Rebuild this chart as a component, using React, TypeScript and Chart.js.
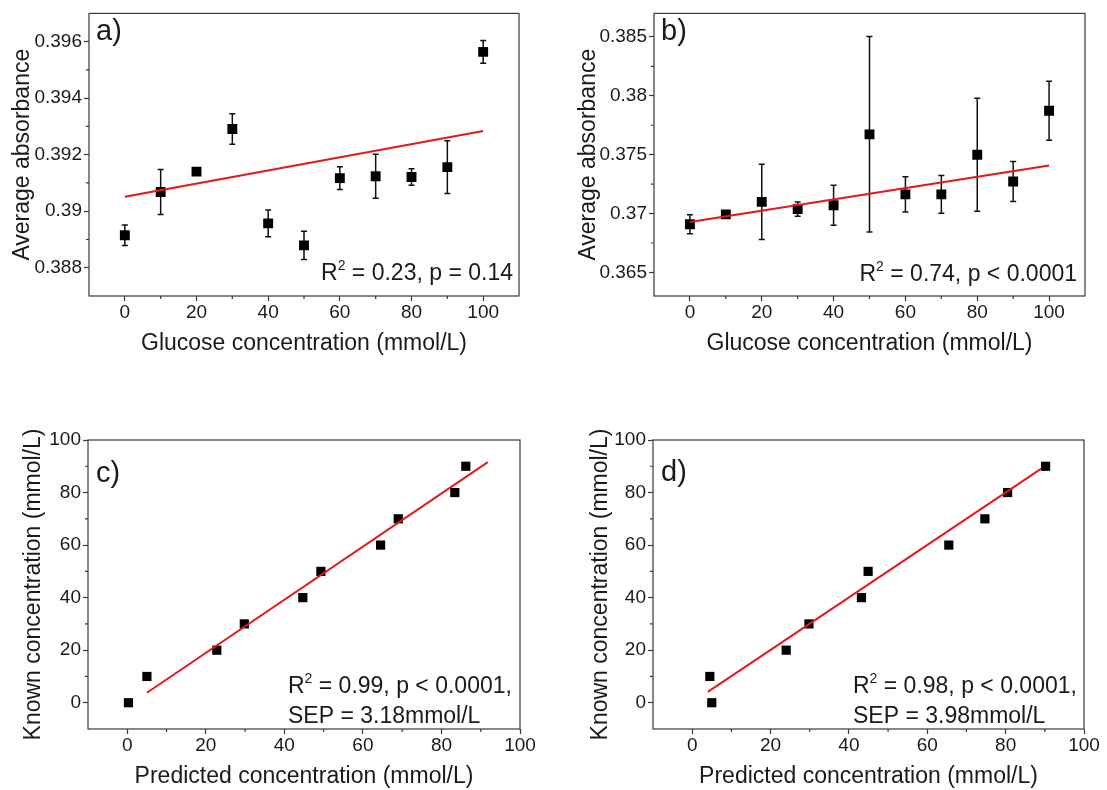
import React, { useEffect, useRef } from 'react';
import { Chart, registerables } from 'chart.js';

Chart.register(...registerables);

const FAMILY = '"Liberation Sans", Arial, Helvetica, sans-serif';

// ---------- Panel a ----------
const glucoseA = [0, 10, 20, 30, 40, 50, 60, 70, 80, 90, 100];
const absorbanceA = [0.38915, 0.39068, 0.3914, 0.39291, 0.38957, 0.38879, 0.39117, 0.39124, 0.39121, 0.39156, 0.39564];
const errorA = [0.00036, 0.0008, 0.00012, 0.00054, 0.00047, 0.0005, 0.0004, 0.00078, 0.00029, 0.00093, 0.0004];
const fitXA = [0, 100];
const fitYA = [0.39051, 0.39284];
const yTicksA = [0.388, 0.39, 0.392, 0.394, 0.396];
const yTickLabelsA = ['0.388', '0.39', '0.392', '0.394', '0.396'];
const yMinorA = [0.389, 0.391, 0.393, 0.395];

// ---------- Panel b ----------
const glucoseB = [0, 10, 20, 30, 40, 50, 60, 70, 80, 90, 100];
const absorbanceB = [0.36909, 0.36993, 0.37099, 0.37038, 0.37071, 0.37673, 0.37163, 0.37163, 0.375, 0.37272, 0.37873];
const errorB = [0.0008, 0.0003, 0.0032, 0.0006, 0.0017, 0.0083, 0.0015, 0.0016, 0.0048, 0.0017, 0.0025];
const fitXB = [0, 100];
const fitYB = [0.36929, 0.37408];
const yTicksB = [0.365, 0.37, 0.375, 0.38, 0.385];
const yTickLabelsB = ['0.365', '0.37', '0.375', '0.38', '0.385'];
const yMinorB = [0.3675, 0.3725, 0.3775, 0.3825];

// shared x ticks for a, b
const xTicksAB = [0, 20, 40, 60, 80, 100];
const xTickLabelsAB = ['0', '20', '40', '60', '80', '100'];
const xMinorAB = [10, 30, 50, 70, 90];

// ---------- Panel c ----------
const predictedC = [0.3, 5, 22.8, 29.8, 44.7, 49.3, 64.5, 69.0, 83.4, 86.2];
const knownC = [0, 10, 20, 30, 40, 50, 60, 70, 80, 90];
const fitXC = [5, 91.8];
const fitYC = [3.8, 91.6];

// ---------- Panel d ----------
const predictedD = [5.0, 4.5, 24.0, 29.8, 43.2, 44.9, 65.5, 74.7, 80.5, 90.2];
const knownD = [0, 10, 20, 30, 40, 50, 60, 70, 80, 90];
const fitXD = [4.0, 89.2];
const fitYD = [4.1, 89.2];

// shared ticks for c, d
const ticksCD = [0, 20, 40, 60, 80, 100];
const tickLabelsCD = ['0', '20', '40', '60', '80', '100'];
const minorCD = [10, 30, 50, 70, 90];

type Seg = { t: string; sup?: boolean };

interface Panel {
  pos: { left: number; top: number; width: number; height: number };
  area: { l: number; r: number; t: number; b: number };
  xRange: [number, number];
  yRange: [number, number];
  xTicks: number[];
  xLabels: string[];
  xMinor: number[];
  yTicks: number[];
  yLabels: string[];
  yMinor: number[];
  xs: number[];
  ys: number[];
  errs?: number[];
  fitX: number[];
  fitY: number[];
  xTitle: string;
  yTitle: string;
  yTitleCenter: number;
  xTitleCenter: number;
  letter: string;
  letterPos: [number, number];
  notes: Seg[][];
  noteAlign: 'left' | 'right';
  noteX: number;
  noteY: number[];
  pointR: number;
}

const panels: Panel[] = [
  {
    pos: { left: 0, top: 0, width: 553, height: 395 },
    area: { l: 89, r: 519, t: 7, b: 296 },
    xRange: [-10, 110],
    yRange: [0.387, 0.397],
    xTicks: xTicksAB, xLabels: xTickLabelsAB, xMinor: xMinorAB,
    yTicks: yTicksA, yLabels: yTickLabelsA, yMinor: yMinorA,
    xs: glucoseA, ys: absorbanceA, errs: errorA,
    fitX: fitXA, fitY: fitYA,
    xTitle: 'Glucose concentration (mmol/L)',
    yTitle: 'Average absorbance',
    yTitleCenter: 23, xTitleCenter: 343.5,
    letter: 'a)', letterPos: [96, 40],
    notes: [[{ t: 'R' }, { t: '2', sup: true }, { t: ' = 0.23, p = 0.14' }]],
    noteAlign: 'right', noteX: 513, noteY: [280],
    pointR: 7,
  },
  {
    pos: { left: 553, top: 0, width: 554, height: 395 },
    area: { l: 101, r: 532, t: 7, b: 296 },
    xRange: [-10, 110],
    yRange: [0.363, 0.387],
    xTicks: xTicksAB, xLabels: xTickLabelsAB, xMinor: xMinorAB,
    yTicks: yTicksB, yLabels: yTickLabelsB, yMinor: yMinorB,
    xs: glucoseB, ys: absorbanceB, errs: errorB,
    fitX: fitXB, fitY: fitYB,
    xTitle: 'Glucose concentration (mmol/L)',
    yTitle: 'Average absorbance',
    yTitleCenter: 36, xTitleCenter: 343.5,
    letter: 'b)', letterPos: [108, 40],
    notes: [[{ t: 'R' }, { t: '2', sup: true }, { t: ' = 0.74, p < 0.0001' }]],
    noteAlign: 'right', noteX: 524, noteY: [281],
    pointR: 7,
  },
  {
    pos: { left: 0, top: 395, width: 553, height: 395 },
    area: { l: 88, r: 520, t: 45, b: 334 },
    xRange: [-10, 100],
    yRange: [-10, 100],
    xTicks: ticksCD, xLabels: tickLabelsCD, xMinor: minorCD,
    yTicks: ticksCD, yLabels: tickLabelsCD, yMinor: minorCD,
    xs: predictedC, ys: knownC,
    fitX: fitXC, fitY: fitYC,
    xTitle: 'Predicted concentration (mmol/L)',
    yTitle: 'Known concentration (mmol/L)',
    yTitleCenter: 34, xTitleCenter: 382,
    letter: 'c)', letterPos: [96, 87],
    notes: [
      [{ t: 'R' }, { t: '2', sup: true }, { t: ' = 0.99, p < 0.0001,' }],
      [{ t: 'SEP = 3.18mmol/L' }],
    ],
    noteAlign: 'left', noteX: 288, noteY: [298, 328],
    pointR: 6.5,
  },
  {
    pos: { left: 553, top: 395, width: 554, height: 395 },
    area: { l: 100, r: 531, t: 45, b: 334 },
    xRange: [-10, 100],
    yRange: [-10, 100],
    xTicks: ticksCD, xLabels: tickLabelsCD, xMinor: minorCD,
    yTicks: ticksCD, yLabels: tickLabelsCD, yMinor: minorCD,
    xs: predictedD, ys: knownD,
    fitX: fitXD, fitY: fitYD,
    xTitle: 'Predicted concentration (mmol/L)',
    yTitle: 'Known concentration (mmol/L)',
    yTitleCenter: 48, xTitleCenter: 382,
    letter: 'd)', letterPos: [108, 86],
    notes: [
      [{ t: 'R' }, { t: '2', sup: true }, { t: ' = 0.98, p < 0.0001,' }],
      [{ t: 'SEP = 3.98mmol/L' }],
    ],
    noteAlign: 'left', noteX: 300, noteY: [298, 328],
    pointR: 6.5,
  },
];

const TEXT = '#1a1a1a';
const AXIS = '#3a3a3a';
const TICK_SIZE = 19;
const TITLE_SIZE = 23;
const NOTE_SIZE = 23;
const SUP_SIZE = 14;
const LETTER_SIZE = 29;

function PanelChart({ p }: { p: Panel }) {
  const ref = useRef<HTMLCanvasElement | null>(null);

  useEffect(() => {
    const canvas = ref.current;
    if (!canvas) return;
    const half = (TITLE_SIZE * 1.2) / 2;

    const deco = {
      id: 'deco',
      beforeDatasetsDraw(chart: any) {
        if (!p.errs) return;
        const { ctx } = chart;
        const xs = chart.scales.x;
        const ys = chart.scales.y;
        ctx.save();
        ctx.strokeStyle = '#111';
        ctx.lineWidth = 1.5;
        p.xs.forEach((xv, i) => {
          const e = p.errs![i];
          const px = xs.getPixelForValue(xv);
          const top = ys.getPixelForValue(p.ys[i] + e);
          const bot = ys.getPixelForValue(p.ys[i] - e);
          ctx.beginPath();
          ctx.moveTo(px, top);
          ctx.lineTo(px, bot);
          ctx.moveTo(px - 3, top);
          ctx.lineTo(px + 3, top);
          ctx.moveTo(px - 3, bot);
          ctx.lineTo(px + 3, bot);
          ctx.stroke();
        });
        ctx.restore();
      },
      afterDraw(chart: any) {
        const { ctx, chartArea: a } = chart;
        const xs = chart.scales.x;
        const ys = chart.scales.y;
        ctx.save();
        // frame
        ctx.strokeStyle = AXIS;
        ctx.lineWidth = 1.2;
        ctx.strokeRect(a.left, a.top, a.right - a.left, a.bottom - a.top);
        // minor ticks
        ctx.beginPath();
        p.xMinor.forEach((v) => {
          const px = xs.getPixelForValue(v);
          ctx.moveTo(px, a.bottom);
          ctx.lineTo(px, a.bottom + 3);
        });
        p.yMinor.forEach((v) => {
          const py = ys.getPixelForValue(v);
          ctx.moveTo(a.left - 3, py);
          ctx.lineTo(a.left, py);
        });
        ctx.stroke();
        // panel letter
        ctx.fillStyle = TEXT;
        ctx.textAlign = 'left';
        ctx.textBaseline = 'alphabetic';
        ctx.font = `${LETTER_SIZE}px ${FAMILY}`;
        ctx.fillText(p.letter, p.letterPos[0], p.letterPos[1]);
        // annotation
        const mainFont = `${NOTE_SIZE}px ${FAMILY}`;
        const supFont = `${SUP_SIZE}px ${FAMILY}`;
        p.notes.forEach((segs, li) => {
          let total = 0;
          const widths = segs.map((s) => {
            ctx.font = s.sup ? supFont : mainFont;
            const w = ctx.measureText(s.t).width;
            total += w;
            return w;
          });
          let cx = p.noteAlign === 'right' ? p.noteX - total : p.noteX;
          const y = p.noteY[li];
          segs.forEach((s, si) => {
            ctx.font = s.sup ? supFont : mainFont;
            ctx.fillText(s.t, cx, s.sup ? y - 10 : y);
            cx += widths[si];
          });
        });
        ctx.restore();
      },
    };

    const chart = new Chart(canvas, {
      type: 'scatter',
      data: {
        datasets: [
          {
            data: p.fitX.map((x, i) => ({ x, y: p.fitY[i] })),
            type: 'line',
            showLine: true,
            borderColor: '#e3191b',
            backgroundColor: '#e3191b',
            borderWidth: 2,
            pointRadius: 0,
            fill: false,
            order: 0,
          } as any,
          {
            data: p.xs.map((x, i) => ({ x, y: p.ys[i] })),
            pointStyle: 'rect',
            pointRadius: p.pointR,
            pointHoverRadius: p.pointR,
            backgroundColor: '#000',
            borderColor: '#000',
            borderWidth: 0,
            order: 1,
          } as any,
        ],
      },
      plugins: [deco],
      options: {
        animation: false,
        responsive: false,
        devicePixelRatio: 1,
        events: [],
        layout: {
          padding: {
            left: 0,
            top: p.area.t,
            right: p.pos.width - p.area.r,
            bottom: 0,
          },
        },
        plugins: {
          legend: { display: false },
          tooltip: { enabled: false },
        },
        scales: {
          x: {
            type: 'linear',
            position: 'bottom',
            min: p.xRange[0],
            max: p.xRange[1],
            afterBuildTicks: (s: any) => {
              s.ticks = p.xTicks.map((v) => ({ value: v }));
            },
            afterFit: (s: any) => {
              s.height = p.pos.height - p.area.b;
            },
            ticks: {
              callback: (_v: any, i: number) => p.xLabels[i],
              font: { family: FAMILY, size: TICK_SIZE },
              color: TEXT,
              padding: 0,
              maxRotation: 0,
              minRotation: 0,
              autoSkip: false,
            },
            grid: {
              display: true,
              drawOnChartArea: false,
              drawTicks: true,
              tickLength: 5,
              tickColor: AXIS,
              tickWidth: 1.2,
            },
            border: { display: false },
            title: {
              display: true,
              text: p.xTitle,
              color: TEXT,
              font: { family: FAMILY, size: TITLE_SIZE },
              padding: { top: 0, bottom: Math.max(0, p.pos.height - p.xTitleCenter - half) },
            },
          },
          y: {
            type: 'linear',
            position: 'left',
            min: p.yRange[0],
            max: p.yRange[1],
            afterBuildTicks: (s: any) => {
              s.ticks = p.yTicks.map((v) => ({ value: v }));
            },
            afterFit: (s: any) => {
              s.width = p.area.l;
            },
            ticks: {
              callback: (_v: any, i: number) => p.yLabels[i],
              font: { family: FAMILY, size: TICK_SIZE },
              color: TEXT,
              padding: 2,
              autoSkip: false,
            },
            grid: {
              display: true,
              drawOnChartArea: false,
              drawTicks: true,
              tickLength: 5,
              tickColor: AXIS,
              tickWidth: 1.2,
            },
            border: { display: false },
            title: {
              display: true,
              text: p.yTitle,
              color: TEXT,
              font: { family: FAMILY, size: TITLE_SIZE },
              padding: { top: Math.max(0, p.yTitleCenter - half), bottom: 0 },
            },
          },
        },
      } as any,
    });
    return () => chart.destroy();
  }, [p]);

  return (
    <canvas
      ref={ref}
      width={p.pos.width}
      height={p.pos.height}
      style={{
        position: 'absolute',
        left: p.pos.left,
        top: p.pos.top,
        width: p.pos.width,
        height: p.pos.height,
        display: 'block',
      }}
    />
  );
}

export default function App() {
  return (
    <div
      style={{
        position: 'absolute',
        left: 0,
        top: 0,
        width: 1107,
        height: 790,
        background: '#fff',
        overflow: 'hidden',
      }}
    >
      {panels.map((p, i) => (
        <PanelChart key={i} p={p} />
      ))}
    </div>
  );
}
